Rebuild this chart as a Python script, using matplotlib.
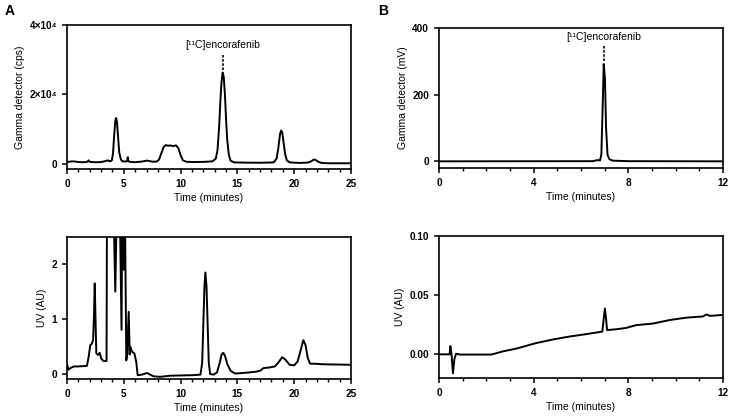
import numpy as np
import matplotlib.pyplot as plt
from matplotlib.ticker import MultipleLocator, FixedLocator

plt.rcParams['font.family'] = ['Liberation Sans', 'DejaVu Sans']
plt.rcParams['font.size'] = 7.5

# (tiempo en min, senal)
gamma_a = [(0, 500), (0.3, 650), (0.6, 700), (1.0, 500), (1.5, 450), (1.8, 600),
           (1.9, 1000), (2.0, 550), (2.5, 450), (3.0, 500), (3.4, 800), (3.6, 1000),
           (3.8, 700), (3.95, 1000), (4.05, 3000), (4.15, 8000), (4.25, 12300),
           (4.32, 13200), (4.4, 12000), (4.5, 7500), (4.6, 3200), (4.75, 1200),
           (4.9, 700), (5.2, 650), (5.3, 900), (5.35, 1900), (5.4, 800), (5.5, 600),
           (6.0, 450), (6.6, 650), (7.0, 900), (7.2, 850), (7.5, 600), (7.9, 650),
           (8.1, 1200), (8.3, 3000), (8.5, 4800), (8.7, 5400), (8.9, 5200),
           (9.1, 5300), (9.3, 5100), (9.6, 5300), (9.8, 4500), (10.0, 2500),
           (10.2, 1000), (10.5, 600), (11.0, 500), (12.0, 550), (12.8, 700),
           (13.1, 1500), (13.25, 4000), (13.4, 11000), (13.5, 18000), (13.6, 23500),
           (13.7, 26300), (13.8, 25000), (13.9, 20000), (14.0, 13000), (14.1, 7000),
           (14.25, 2500), (14.4, 900), (14.7, 400), (15.5, 350), (17.0, 300),
           (18.2, 400), (18.45, 1500), (18.6, 4500), (18.75, 8500), (18.85, 9600),
           (18.95, 9000), (19.05, 6500), (19.2, 2800), (19.35, 1000), (19.6, 400),
           (20.5, 250), (21.2, 350), (21.5, 700), (21.7, 1200), (21.9, 1100),
           (22.1, 600), (22.4, 250), (23.0, 150), (25.0, 150)]

uv_a = [(0, 0.17), (0.12, 0.07), (0.3, 0.1), (0.6, 0.13), (1.0, 0.13), (1.75, 0.14),
        (1.9, 0.3), (2.05, 0.52), (2.2, 0.55), (2.3, 0.62), (2.38, 1.1), (2.44, 1.65),
        (2.5, 1.1), (2.58, 0.37), (2.73, 0.34), (2.88, 0.38), (3.0, 0.28), (3.2, 0.23),
        (3.48, 0.23), (3.52, 3.0), (4.1, 3.0), (4.25, 1.5), (4.38, 3.0), (4.65, 3.0),
        (4.8, 0.8), (4.86, 3.0), (4.95, 3.0), (4.99, 1.9), (5.05, 3.0), (5.1, 3.0),
        (5.22, 0.24), (5.3, 0.35), (5.43, 1.13), (5.52, 0.35), (5.58, 0.49),
        (5.72, 0.4), (5.93, 0.37), (6.1, 0.21), (6.22, -0.03), (6.6, -0.02),
        (7.04, 0.01), (7.6, -0.05), (8.2, -0.06), (9.07, -0.04), (10.0, -0.035),
        (11.1, -0.03), (11.75, -0.02), (11.9, 0.2), (12.0, 0.9), (12.1, 1.6),
        (12.18, 1.85), (12.28, 1.6), (12.38, 0.9), (12.48, 0.2), (12.6, -0.01),
        (12.9, -0.02), (13.2, 0.02), (13.45, 0.2), (13.6, 0.34), (13.75, 0.38),
        (13.9, 0.33), (14.1, 0.18), (14.4, 0.05), (14.8, 0.0), (15.5, 0.01),
        (16.5, 0.03), (17.0, 0.05), (17.3, 0.1), (17.8, 0.11), (18.3, 0.13),
        (18.6, 0.2), (18.95, 0.3), (19.2, 0.26), (19.6, 0.16), (20.0, 0.15),
        (20.3, 0.22), (20.6, 0.45), (20.8, 0.61), (21.0, 0.52), (21.2, 0.28),
        (21.4, 0.18), (21.8, 0.18), (22.5, 0.17), (25.0, 0.16)]

gamma_b = [(0, 0), (6.5, 0.5), (6.65, 3), (6.72, 4), (6.8, 2), (6.86, 20),
           (6.91, 150), (6.96, 292), (7.01, 250), (7.06, 100), (7.12, 20),
           (7.2, 6), (7.35, 2), (8.0, 0.5), (12.0, 0)]

uv_b = [(0, 0), (0.45, 0), (0.48, 0.007), (0.53, 0.0), (0.59, -0.016),
        (0.65, -0.004), (0.72, 0.0005), (0.9, -0.0002), (2.2, -0.0002),
        (2.4, 0.0008), (2.7, 0.0025), (3.3, 0.005), (4.1, 0.0095), (4.8, 0.0125),
        (5.5, 0.015), (6.2, 0.017), (6.9, 0.0192), (6.96, 0.03), (7.01, 0.0388),
        (7.06, 0.03), (7.1, 0.0205), (7.5, 0.0212), (7.9, 0.0223), (8.34, 0.0247),
        (9.04, 0.026), (9.75, 0.029), (10.45, 0.031), (11.15, 0.032), (11.3, 0.0337),
        (11.45, 0.0325), (12.0, 0.0333)]

pico_a = (13.7, 26300)
pico_b = (6.96, 292)
etiqueta = "[¹¹C]encorafenib"

W, H = 729, 416
fig = plt.figure(figsize=(W / 100, H / 100), dpi=100)


def caja(x0, x1, y_top, y_bot):
    return [x0 / W, 1 - y_bot / H, (x1 - x0) / W, (y_bot - y_top) / H]


def estilo(ax, xmax, xmaj, ylim, yticks, yticklabels, ylabel):
    ax.set_xlim(0, xmax)
    ax.set_ylim(*ylim)
    ax.xaxis.set_major_locator(MultipleLocator(xmaj))
    ax.xaxis.set_minor_locator(MultipleLocator(1))
    ax.yaxis.set_major_locator(FixedLocator(yticks))
    ax.set_yticklabels(yticklabels)
    ax.tick_params(which='major', direction='out', length=3.6, width=1.1, labelsize=7.2, pad=3.5)
    ax.tick_params(which='minor', direction='out', length=2, width=1.0)
    for lab in ax.get_xticklabels() + ax.get_yticklabels():
        lab.set_fontweight('bold')
    for s in ax.spines.values():
        s.set_linewidth(1.2)
    ax.set_xlabel("Time (minutes)", fontsize=7.5, labelpad=3)
    ax.set_ylabel(ylabel, fontsize=7.5, labelpad=3)


def traza(ax, datos):
    d = np.array(datos)
    ax.plot(d[:, 0], d[:, 1], color='black', lw=1.4)


# panel A
ax1 = fig.add_axes(caja(67, 351, 25, 169))
traza(ax1, gamma_a)
estilo(ax1, 25, 5, (-1500, 40000), [0, 20000, 40000], ["0", "2×10⁴", "4×10⁴"],
       "Gamma detector (cps)")
ax1.plot([pico_a[0], pico_a[0]], [pico_a[1] + 800, 31500], color='black', lw=1.2, ls=(0, (1.5, 1)))
ax1.text(pico_a[0], 32800, etiqueta, ha='center', va='bottom', fontsize=7.5)

ax2 = fig.add_axes(caja(67, 351, 237, 379))
traza(ax2, uv_a)
estilo(ax2, 25, 5, (-0.1, 2.5), [0, 1, 2], ["0", "1", "2"], "UV (AU)")

# panel B
ax3 = fig.add_axes(caja(439, 723, 28, 168))
traza(ax3, gamma_b)
estilo(ax3, 12, 4, (-20, 400), [0, 200, 400], ["0", "200", "400"], "Gamma detector (mV)")
ax3.plot([pico_b[0], pico_b[0]], [pico_b[1] + 8, 348], color='black', lw=1.2, ls=(0, (1.5, 1)))
ax3.text(pico_b[0], 357, etiqueta, ha='center', va='bottom', fontsize=7.5)

ax4 = fig.add_axes(caja(439, 723, 236, 378))
traza(ax4, uv_b)
estilo(ax4, 12, 4, (-0.02, 0.10), [0, 0.05, 0.10], ["0.00", "0.05", "0.10"], "UV (AU)")

fig.text(5 / W, 1 - 11 / H, "A", fontsize=10, fontweight='bold', va='center')
fig.text(378 / W, 1 - 11 / H, "B", fontsize=10, fontweight='bold', va='center')

fig.savefig("out.png", dpi=100)
